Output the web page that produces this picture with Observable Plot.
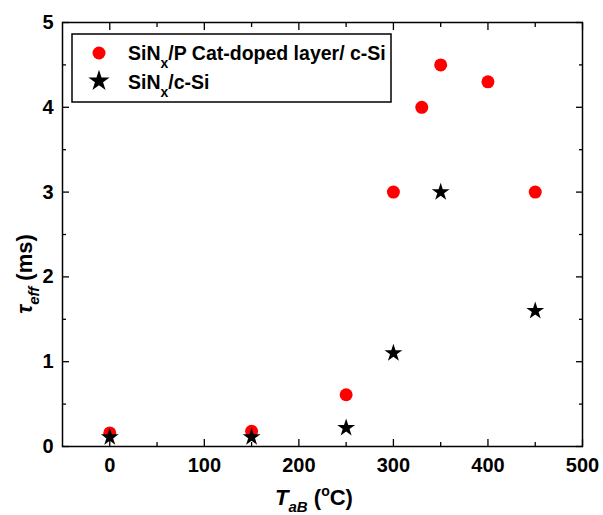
<!DOCTYPE html>
<html><head><meta charset="utf-8">
<script src="https://cdn.jsdelivr.net/npm/d3@7"></script>
<script src="https://cdn.jsdelivr.net/npm/@observablehq/plot@0.6"></script>
<style>
body{margin:0;background:#fff}
#chart{position:relative;width:603px;height:515px}
</style>
</head><body><div id="chart"></div>
<script>
// Series 1: SiNx/P Cat-doped layer/ c-Si (red circles)
const temps1 = [0, 150, 250, 300, 330, 350, 400, 450];
const tau1   = [0.16, 0.18, 0.61, 3.0, 4.0, 4.5, 4.3, 3.0];
// Series 2: SiNx/c-Si (black stars)
const temps2 = [0, 150, 250, 300, 350, 450];
const tau2   = [0.11, 0.11, 0.22, 1.1, 3.0, 1.6];
// Ticks
const xMajor = [0, 100, 200, 300, 400, 500];
const xMinor = [50, 150, 250, 350, 450];
const yMajor = [0, 1, 2, 3, 4, 5];
const yMinor = [0.5, 1.5, 2.5, 3.5, 4.5];
// Legend labels: [main, subscript, rest]
const legend1 = ["SiN", "x", "/P Cat-doped layer/ c-Si"];
const legend2 = ["SiN", "x", "/c-Si"];

const d1 = temps1.map((t, i) => ({t, tau: tau1[i]}));
const d2 = temps2.map((t, i) => ({t, tau: tau2[i]}));

const font = "'Liberation Sans', Arial, sans-serif";
const tickStyle = {fontSize: 20, fontWeight: "bold", fontFamily: font, fill: "black", tickFormat: d => String(d)};
const noText = {tickFormat: () => "", label: null, strokeWidth: 1.3};

const plot = Plot.plot({
  width: 603, height: 515,
  marginLeft: 62, marginRight: 21, marginTop: 22, marginBottom: 69,
  style: {fontFamily: font, background: "white", overflow: "visible"},
  x: {domain: [-50, 500]},
  y: {domain: [0, 5]},
  marks: [
    // tick labels
    Plot.axisX(xMajor, {anchor: "bottom", tickSize: 0, tickPadding: 11, label: null, ...tickStyle}),
    Plot.axisY(yMajor, {anchor: "left", tickSize: 0, tickPadding: 9, label: null, ...tickStyle}),
    // inward ticks
    Plot.axisX(xMajor, {anchor: "bottom", tickSize: -7, ...noText}),
    Plot.axisX(xMinor, {anchor: "bottom", tickSize: -4, ...noText}),
    Plot.axisX(xMajor, {anchor: "top", tickSize: -7, ...noText}),
    Plot.axisX(xMinor, {anchor: "top", tickSize: -4, ...noText}),
    Plot.axisY(yMajor, {anchor: "left", tickSize: -7, ...noText}),
    Plot.axisY(yMinor, {anchor: "left", tickSize: -4, ...noText}),
    Plot.axisY(yMajor, {anchor: "right", tickSize: -7, ...noText}),
    Plot.axisY(yMinor, {anchor: "right", tickSize: -4, ...noText}),
    Plot.frame({stroke: "black", strokeWidth: 1.5}),
    Plot.dot(d1, {x: "t", y: "tau", r: 6.5, fill: "#ff0000", stroke: "none"}),
    Plot.dot(d2, {x: "t", y: "tau", r: 5.6, symbol: "star", fill: "black", stroke: "none"})
  ]
});

const svg = d3.select(plot);
// Axis labels
const xl = svg.append("text")
  .attr("x", 314).attr("y", 505)
  .attr("text-anchor", "middle")
  .attr("font-family", font).attr("font-weight", "bold").attr("font-size", 22).attr("fill", "black");
xl.append("tspan").attr("font-style", "italic").text("T");
xl.append("tspan").attr("font-style", "italic").attr("font-size", 15).attr("dy", 7).text("aB");
xl.append("tspan").attr("dy", -7).text(" (");
xl.append("tspan").attr("font-size", 14).attr("dy", -9).text("o");
xl.append("tspan").attr("dy", 9).text("C)");

const yl = svg.append("text")
  .attr("transform", "translate(32,274) rotate(-90)")
  .attr("text-anchor", "middle")
  .attr("font-family", font).attr("font-weight", "bold").attr("font-size", 22).attr("fill", "black");
yl.append("tspan").attr("font-style", "italic").text("τ");
yl.append("tspan").attr("font-style", "italic").attr("font-size", 15).attr("dy", 7).text("eff");
yl.append("tspan").attr("dy", -7).text(" (ms)");

// Legend
const lg = svg.append("g");
lg.append("rect").attr("x", 72).attr("y", 34).attr("width", 319).attr("height", 68)
  .attr("fill", "white").attr("stroke", "black").attr("stroke-width", 1.5);
lg.append("circle").attr("cx", 99).attr("cy", 53).attr("r", 6.5).attr("fill", "#ff0000");
lg.append("path").attr("d", d3.symbol(d3.symbolStar, 140)()).attr("transform", "translate(99,81)").attr("fill", "black");
[[legend1, 60], [legend2, 89]].forEach(([parts, y]) => {
  const t = lg.append("text").attr("x", 128).attr("y", y).attr("text-anchor", "start")
    .attr("font-family", font).attr("font-weight", "bold").attr("font-size", 19.5).attr("fill", "black");
  t.append("tspan").text(parts[0]);
  t.append("tspan").attr("font-size", 14).attr("dy", 8).text(parts[1]);
  t.append("tspan").attr("dy", -8).text(parts[2]);
});

document.getElementById("chart").append(plot);
</script>
</body></html>
